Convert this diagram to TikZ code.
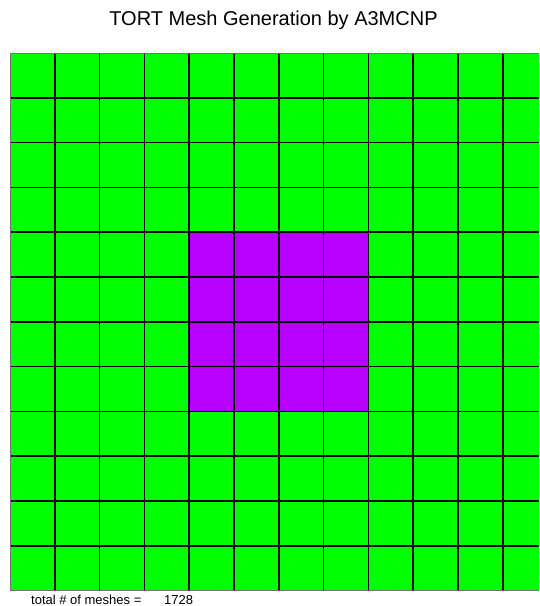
\documentclass[tikz,border=0pt]{standalone}
\usepackage{fontspec}
\setmainfont{Liberation Sans}
\definecolor{meshgreen}{RGB}{0,255,0}
\definecolor{meshpurple}{RGB}{183,0,255}
\tikzset{
  gridline/.style={line width=1.5pt, black},
  outerline/.style={line width=1pt, black!55},
  titletext/.style={font=\fontsize{20}{24}\selectfont, inner sep=0pt, anchor=base},
  notetext/.style={font=\fontsize{13}{15}\selectfont, inner sep=0pt, anchor=base west}
}
\begin{document}
\begin{tikzpicture}[x=1pt,y=-1pt]
\useasboundingbox (0,0) rectangle (539,606);
\def\cw{44.8}
\begin{scope}
\clip (0,0) rectangle (539,606);
\fill[meshgreen] (10,53) rectangle ({10+12*\cw},{53+12*\cw});
\fill[meshpurple] ({10+4*\cw},{53+4*\cw}) rectangle ({10+8*\cw},{53+8*\cw});
\foreach \i in {1,...,11} {
  \draw[gridline] ({10+\i*\cw},53) -- ({10+\i*\cw},{53+12*\cw});
  \draw[gridline] (10,{53+\i*\cw}) -- ({10+12*\cw},{53+\i*\cw});
}
\draw[outerline] (10,53) rectangle ({10+12*\cw},{53+12*\cw});
\end{scope}
\node[titletext] (title) at (273.5,25) {TORT Mesh Generation by A3MCNP};
\node[notetext] (note) at (31,604) {total \# of meshes =\hspace{1.75em}1728};
\end{tikzpicture}
\end{document}
